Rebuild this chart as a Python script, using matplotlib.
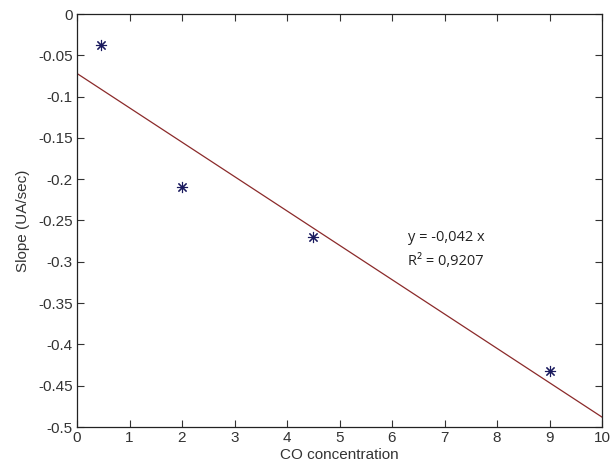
import matplotlib
matplotlib.use("Agg")
import matplotlib.pyplot as plt
from matplotlib.ticker import FuncFormatter

plt.rcParams['font.family'] = ['Liberation Sans', 'DejaVu Sans']
plt.rcParams['axes.unicode_minus'] = False

# measured points
co_conc = [0.45, 2.0, 4.5, 9.0]
slope = [-0.037, -0.21, -0.27, -0.432]

# fitted line endpoints
fit_x = [0, 10]
fit_y = [-0.072, -0.488]

x_ticks = list(range(0, 11))
y_ticks = [0, -0.05, -0.1, -0.15, -0.2, -0.25, -0.3, -0.35, -0.4, -0.45, -0.5]

fig = plt.figure(figsize=(6.15, 4.73), dpi=100)
ax = fig.add_axes([77 / 615, 46 / 473, 525 / 615, 413 / 473])

ax.plot(fit_x, fit_y, color='#8b2a2a', linewidth=0.9)
# matlab-style asterisk: 8 spokes
ax.plot(co_conc, slope, linestyle='none', marker=(8, 2, 0), color='#1a1a5e',
        markersize=8, markeredgewidth=0.8)

ax.set_xlim(0, 10)
ax.set_ylim(-0.5, 0)
ax.set_xticks(x_ticks)
ax.set_yticks(y_ticks)
ax.yaxis.set_major_formatter(FuncFormatter(lambda v, p: '%g' % v))
ax.tick_params(direction='in', top=True, right=True, length=5, width=0.8,
               labelsize=11, colors='#333333', pad=3)
for s in ax.spines.values():
    s.set_linewidth(0.9)
    s.set_color('#222222')

ax.set_xlabel('CO concentration', fontsize=11, labelpad=2, color='#333333')
ax.set_ylabel('Slope (UA/sec)', fontsize=11, labelpad=6, color='#333333')

ax.text(6.3, -0.27, 'y = -0,042 x', fontsize=10.5, family=['Open Sans', 'DejaVu Sans'],
        color='#222222', va='center')
ax.text(6.3, -0.30, 'R² = 0,9207', fontsize=10.5, family=['Open Sans', 'DejaVu Sans'],
        color='#222222', va='center')

fig.savefig('out.png', dpi=100, facecolor='white')
